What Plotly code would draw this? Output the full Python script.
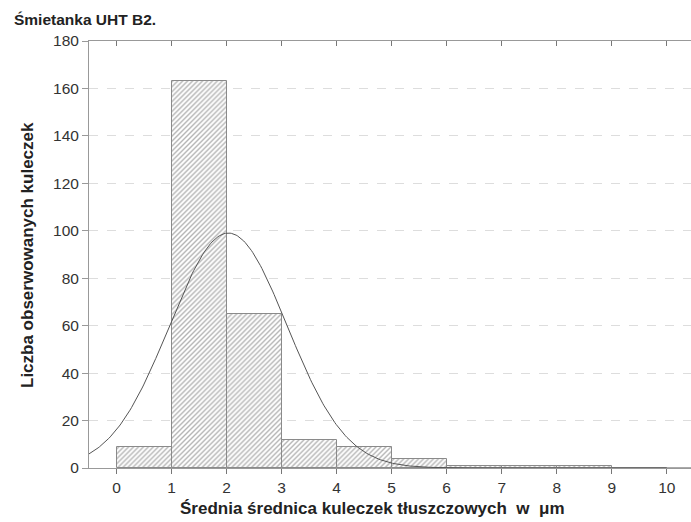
import numpy as np
import plotly.graph_objects as go

# Histogram data
bin_edges = [0, 1, 2, 3, 4, 5, 6, 7, 8, 9, 10]
counts = [9, 163, 65, 12, 9, 4, 1, 1, 1, 0]
x_ticks = [0, 1, 2, 3, 4, 5, 6, 7, 8, 9, 10]
y_ticks = [0, 20, 40, 60, 80, 100, 120, 140, 160, 180]

title_text = "Śmietanka UHT B2."
x_title = "Średnia średnica kuleczek tłuszczowych  w  μm"
y_title = "Liczba obserwowanych kuleczek"

centers = [(a + b) / 2 for a, b in zip(bin_edges[:-1], bin_edges[1:])]
widths = [b - a for a, b in zip(bin_edges[:-1], bin_edges[1:])]

# fitted normal curve (from the histogram's mean and SD)
c = np.array(centers)
n = np.array(counts)
N = n.sum()
mu = (c * n).sum() / N
sd = np.sqrt(((c - mu) ** 2 * n).sum() / N)
xc = np.linspace(-0.5, 10.5, 400)
yc = N * 1.0 / (sd * np.sqrt(2 * np.pi)) * np.exp(-0.5 * ((xc - mu) / sd) ** 2)

FONT = "Liberation Sans, Arial, sans-serif"
W, H = 691, 522
L, R, T, B = 89, 0, 41, 54
pw, ph = W - L - R, H - T - B

fig = go.Figure()
fig.add_trace(go.Bar(
    x=centers, y=counts, width=widths,
    marker=dict(
        color="white",
        line=dict(color="#8a8a8a", width=1),
        pattern=dict(shape="/", fgcolor="#6a6a6a", bgcolor="white", size=3.5, solidity=0.4),
    ),
    showlegend=False, hoverinfo="x+y",
))
fig.add_trace(go.Scatter(
    x=xc, y=yc, mode="lines", line=dict(color="#555555", width=1),
    showlegend=False, hoverinfo="skip",
))
fig.add_trace(go.Scatter(x=[0], y=[0], xaxis="x2", mode="markers",
                         marker=dict(opacity=0), showlegend=False, hoverinfo="skip"))

fig.update_layout(
    width=W, height=H,
    margin=dict(l=L, r=R, t=T, b=B),
    paper_bgcolor="white", plot_bgcolor="white",
    font=dict(family=FONT, color="#333333", size=15),
    bargap=0,
    xaxis=dict(
        range=[-0.5, 10.44], tickvals=x_ticks, ticks="outside", ticklen=5,
        tickcolor="#777777", showline=True, linecolor="#999999", linewidth=1,
        showgrid=False, zeroline=False, automargin=False,
        tickfont=dict(size=15.5, color="#333333"),
    ),
    xaxis2=dict(
        overlaying="x", side="top", range=[-0.5, 10.44], tickvals=x_ticks,
        ticks="inside", ticklen=5, tickcolor="#777777", showticklabels=False,
        showline=True, linecolor="#999999", linewidth=1, showgrid=False,
        zeroline=False, automargin=False,
    ),
    yaxis=dict(
        range=[0, 180], tickvals=y_ticks, ticks="outside", ticklen=6,
        tickcolor="#999999", showline=True, linecolor="#999999", linewidth=1,
        showgrid=True, gridcolor="#dddddd", griddash="dash", gridwidth=1,
        zeroline=False, automargin=False,
        tickfont=dict(size=15.5, color="#333333"),
    ),
    annotations=[
        dict(text="<b>" + title_text + "</b>", xref="paper", yref="paper",
             x=(12 - L) / pw, y=1 + (T - 20) / ph, xanchor="left", yanchor="middle",
             showarrow=False, font=dict(size=15.5, color="#222222", family=FONT)),
        dict(text="<b>" + x_title + "</b>", xref="paper", yref="paper",
             x=(372 - L) / pw, y=-(509 - T - ph) / ph, xanchor="center", yanchor="middle",
             showarrow=False, font=dict(size=17, color="#222222", family=FONT)),
        dict(text="<b>" + y_title + "</b>", xref="paper", yref="paper",
             x=(27 - L) / pw, y=1 - (255 - T) / ph, xanchor="center", yanchor="middle",
             textangle=-90, showarrow=False, font=dict(size=17, color="#222222", family=FONT)),
    ],
)

fig.write_html("out.html", config={"displayModeBar": False},
               post_script="document.body.style.margin='0';")
